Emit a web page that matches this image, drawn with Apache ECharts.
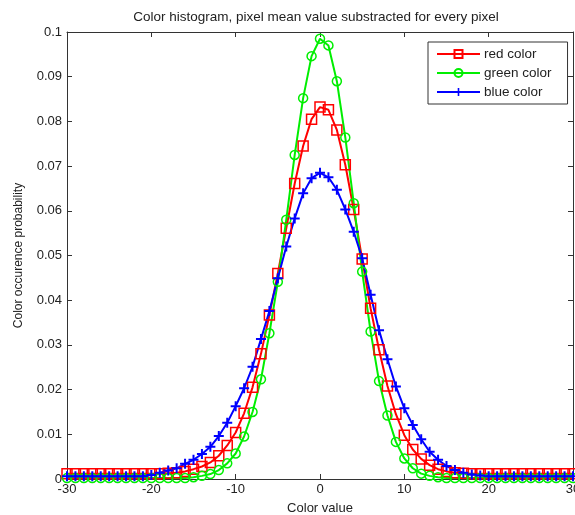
<!DOCTYPE html>
<html lang="en">

<head>
    <meta charset="UTF-8">
    <title>Color histogram</title>
    <script src="https://cdn.jsdelivr.net/npm/echarts@6/dist/echarts.min.js"></script>
    <style>
        body {
            margin: 0;
        }

        #root {
            width: 575px;
            height: 515px;
        }
    </style>
</head>

<body>

    <div id="root"></div>
    <script>

        var colorValues = [
            -30, -29, -28, -27, -26, -25, -24, -23, -22, -21,
            -20, -19, -18, -17, -16, -15, -14, -13, -12, -11,
            -10, -9, -8, -7, -6, -5, -4, -3, -2, -1,
            0, 1, 2, 3, 4, 5, 6, 7, 8, 9,
            10, 11, 12, 13, 14, 15, 16, 17, 18, 19,
            20, 21, 22, 23, 24, 25, 26, 27, 28, 29, 30
        ];

        var redColor = [
            0.0012, 0.0012, 0.0012, 0.0012, 0.0012, 0.0012, 0.0012, 0.0012, 0.0012, 0.0012,
            0.0012, 0.0012, 0.0013, 0.0014, 0.0017, 0.0022, 0.0028, 0.0037, 0.0052, 0.0075,
            0.0104, 0.0147, 0.0205, 0.0280, 0.0367, 0.0460, 0.0561, 0.0661, 0.0745, 0.0805,
            0.0832, 0.0826, 0.0781, 0.0703, 0.0603, 0.0492, 0.0382, 0.0289, 0.0208, 0.0145,
            0.0098, 0.0066, 0.0045, 0.0031, 0.0022, 0.0017, 0.0014, 0.0013, 0.0012, 0.0012,
            0.0012, 0.0012, 0.0012, 0.0012, 0.0012, 0.0012, 0.0012, 0.0012, 0.0012, 0.0012, 0.0012
        ];

        var greenColor = [
            0.0002, 0.0002, 0.0002, 0.0002, 0.0002, 0.0002, 0.0002, 0.0002, 0.0002, 0.0002,
            0.0002, 0.0002, 0.0002, 0.0002, 0.0002, 0.0004, 0.0007, 0.0011, 0.0020, 0.0035,
            0.0057, 0.0095, 0.0150, 0.0223, 0.0326, 0.0441, 0.0580, 0.0725, 0.0852, 0.0946,
            0.0985, 0.0970, 0.0890, 0.0764, 0.0617, 0.0464, 0.0330, 0.0219, 0.0142, 0.0083,
            0.0046, 0.0024, 0.0012, 0.0007, 0.0004, 0.0002, 0.0002, 0.0002, 0.0002, 0.0002,
            0.0002, 0.0002, 0.0002, 0.0002, 0.0002, 0.0002, 0.0002, 0.0002, 0.0002, 0.0002, 0.0002
        ];

        var blueColor = [
            0.0006, 0.0006, 0.0006, 0.0006, 0.0006, 0.0006, 0.0006, 0.0006, 0.0006, 0.0006,
            0.0009, 0.0014, 0.0019, 0.0024, 0.0034, 0.0043, 0.0056, 0.0072, 0.0096, 0.0126,
            0.0163, 0.0203, 0.0251, 0.0313, 0.0376, 0.0449, 0.0520, 0.0583, 0.0639, 0.0673,
            0.0685, 0.0675, 0.0647, 0.0603, 0.0553, 0.0494, 0.0412, 0.0333, 0.0268, 0.0207,
            0.0158, 0.0121, 0.0089, 0.0061, 0.0043, 0.0029, 0.0020, 0.0014, 0.0010, 0.0008,
            0.0006, 0.0006, 0.0006, 0.0006, 0.0006, 0.0006, 0.0006, 0.0006, 0.0006, 0.0006, 0.0006
        ];

        function pairs(ys) {
            return colorValues.map(function (x, i) { return [x, ys[i]]; });
        }

        var font = 'Liberation Sans, Arial, sans-serif';
        var frame = '#333';
        var txt = '#222';

        var mychart = echarts.init(document.getElementById("root"));

        mychart.setOption({
            animation: false,
            title: {
                text: 'Color histogram, pixel mean value substracted for every pixel',
                left: 311,
                textAlign: 'center',
                top: 5,
                textStyle: { fontSize: 13.5, fontWeight: 'normal', color: txt, fontFamily: font }
            },
            legend: {
                orient: 'vertical',
                left: 428,
                top: 42,
                itemWidth: 43,
                itemHeight: 10,
                itemGap: 5,
                padding: [5, 16, 5, 8],
                borderColor: frame,
                borderWidth: 1,
                backgroundColor: '#fff',
                textStyle: { fontSize: 13.5, color: txt, fontFamily: font, padding: [0, 0, 0, -1] },
                data: ['red color', 'green color', 'blue color']
            },
            grid: { left: 67, right: 2, top: 32, bottom: 36, outerBoundsMode: 'none', containLabel: false },
            xAxis: [{
                type: 'value',
                min: -30, max: 30, interval: 10,
                name: 'Color value',
                nameLocation: 'middle',
                nameGap: 23,
                nameTextStyle: { fontSize: 13, color: txt, fontFamily: font },
                axisLine: { onZero: false, lineStyle: { color: frame } },
                axisTick: { inside: true, length: 5, lineStyle: { color: frame } },
                axisLabel: { fontSize: 13, color: txt, fontFamily: font, margin: 4 },
                splitLine: { show: false }
            }, {
                type: 'value',
                position: 'top',
                min: -30, max: 30, interval: 10,
                axisLine: { onZero: false, lineStyle: { color: frame } },
                axisTick: { inside: true, length: 5, lineStyle: { color: frame } },
                axisLabel: { show: false },
                splitLine: { show: false }
            }],
            yAxis: [{
                type: 'value',
                min: 0, max: 0.1, interval: 0.01,
                name: 'Color occurence probability',
                nameLocation: 'middle',
                nameGap: 42,
                nameTextStyle: { fontSize: 12, color: txt, fontFamily: font },
                axisLine: { show: true, onZero: false, lineStyle: { color: frame } },
                axisTick: { show: true, inside: true, length: 5, lineStyle: { color: frame } },
                axisLabel: { fontSize: 13, color: txt, fontFamily: font, margin: 5 },
                splitLine: { show: false }
            }, {
                type: 'value',
                position: 'right',
                min: 0, max: 0.1, interval: 0.01,
                axisLine: { show: true, onZero: false, lineStyle: { color: frame } },
                axisTick: { show: true, inside: true, length: 5, lineStyle: { color: frame } },
                axisLabel: { show: false },
                splitLine: { show: false }
            }],
            series: [{
                name: 'red color',
                type: 'line',
                data: pairs(redColor),
                symbol: 'rect',
                symbolSize: 10,
                itemStyle: { color: 'transparent', borderColor: '#ff0000', borderWidth: 1.5 },
                lineStyle: { color: '#ff0000', width: 2 }
            }, {
                name: 'green color',
                type: 'line',
                data: pairs(greenColor),
                symbol: 'circle',
                symbolSize: 9,
                itemStyle: { color: 'transparent', borderColor: '#00ee00', borderWidth: 1.5 },
                lineStyle: { color: '#00ee00', width: 2 }
            }, {
                name: 'blue color',
                type: 'line',
                data: pairs(blueColor),
                symbol: 'path://M4,0H6V4H10V6H6V10H4V6H0V4H4Z',
                symbolSize: 10,
                itemStyle: { color: '#0000ff' },
                lineStyle: { color: '#0000ff', width: 2 }
            }]
        });

    </script>

</body>

</html>
